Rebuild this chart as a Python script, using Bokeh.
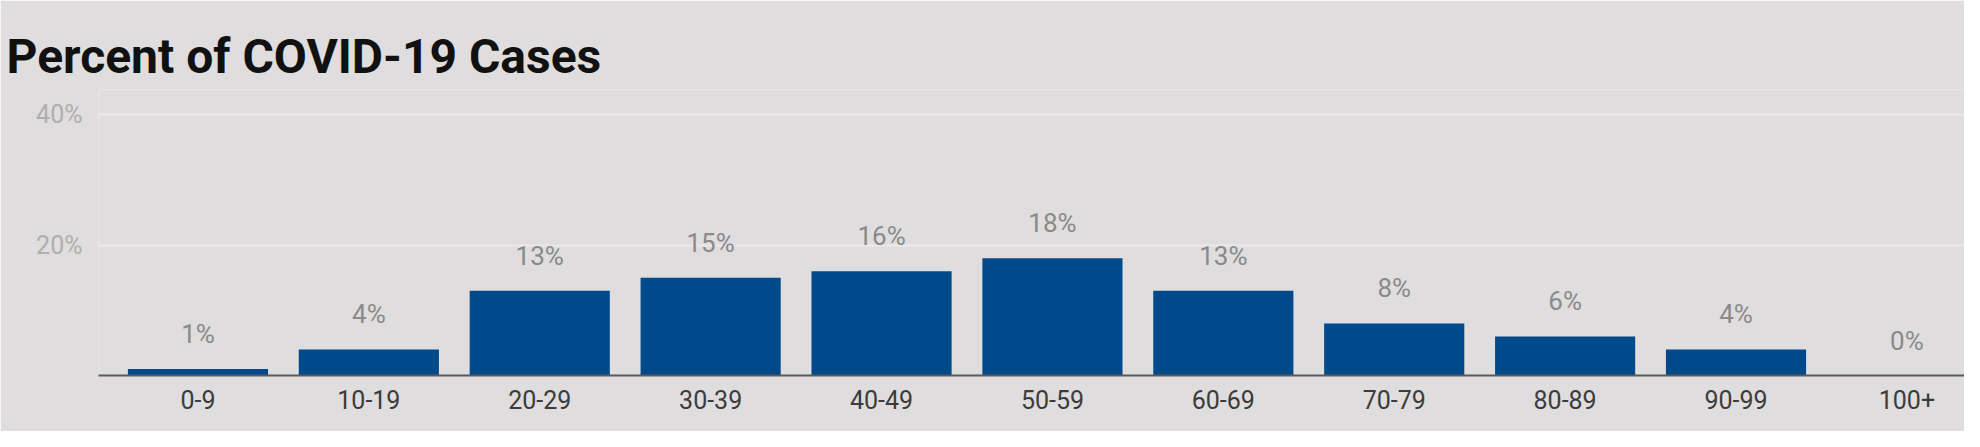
from bokeh.plotting import figure
from bokeh.models import Range1d, FixedTicker, Title, ColumnDataSource
from bokeh.core.properties import value
from bokeh.embed import file_html
from bokeh.resources import INLINE

categories = ["0-9", "10-19", "20-29", "30-39", "40-49", "50-59",
              "60-69", "70-79", "80-89", "90-99", "100+"]
percents = [1, 4, 13, 15, 16, 18, 13, 8, 6, 4, 0]
y_ticks = [20, 40]
title_text = "Percent of COVID-19 Cases"

BG = "#dfdddd"
BAR = "#004a8b"

xs = list(range(len(categories)))
src = ColumnDataSource(dict(x=xs, top=percents,
                            label=[f"{v}%" for v in percents]))

p = figure(width=1964, height=431, output_backend="svg", toolbar_location=None,
           x_range=Range1d(-0.582, 10.337), y_range=Range1d(0, 43.9),
           min_border_left=98, min_border_right=0, min_border_top=89, min_border_bottom=56)
p.title = Title(text=title_text, text_font="Roboto", text_font_size="48px",
                text_font_style="bold", text_color="#111111", align="left", offset=-92)

p.background_fill_color = BG
p.border_fill_color = BG
p.outline_line_color = None

p.vbar(x="x", top="top", width=0.82, source=src, fill_color=BAR, line_color=None)
p.text(x="x", y="top", text="label", source=src, text_align="center",
       text_baseline="middle", y_offset=-35, text_font=value("Roboto"),
       text_font_size="26px", text_color="#8a8a8a")

# x axis
p.xaxis.ticker = FixedTicker(ticks=xs)
p.xaxis.major_label_overrides = {i: c for i, c in zip(xs, categories)}
p.xaxis.major_tick_line_color = None
p.xaxis.minor_tick_line_color = None
p.xaxis.major_tick_out = 0
p.xaxis.major_label_standoff = 14
p.xaxis.axis_line_color = "#5a5a5a"
p.xaxis.axis_line_width = 2
p.xaxis.major_label_text_font = "Roboto"
p.xaxis.major_label_text_font_size = "25px"
p.xaxis.major_label_text_color = "#3c3c3c"
p.xgrid.grid_line_color = None

# y axis
p.yaxis.ticker = FixedTicker(ticks=y_ticks)
p.yaxis.major_label_overrides = {t: f"{t}%" for t in y_ticks}
p.yaxis.axis_line_color = None
p.yaxis.major_tick_line_color = None
p.yaxis.minor_tick_line_color = None
p.yaxis.major_tick_out = 0
p.yaxis.major_label_standoff = 16
p.yaxis.major_label_text_font = "Roboto"
p.yaxis.major_label_text_font_size = "25px"
p.yaxis.major_label_text_color = "#b0aeae"
p.ygrid.ticker = FixedTicker(ticks=y_ticks)
p.ygrid.grid_line_color = "#ebe9e9"
p.ygrid.grid_line_width = 2

open("out.html", "w").write(file_html(p, INLINE))
